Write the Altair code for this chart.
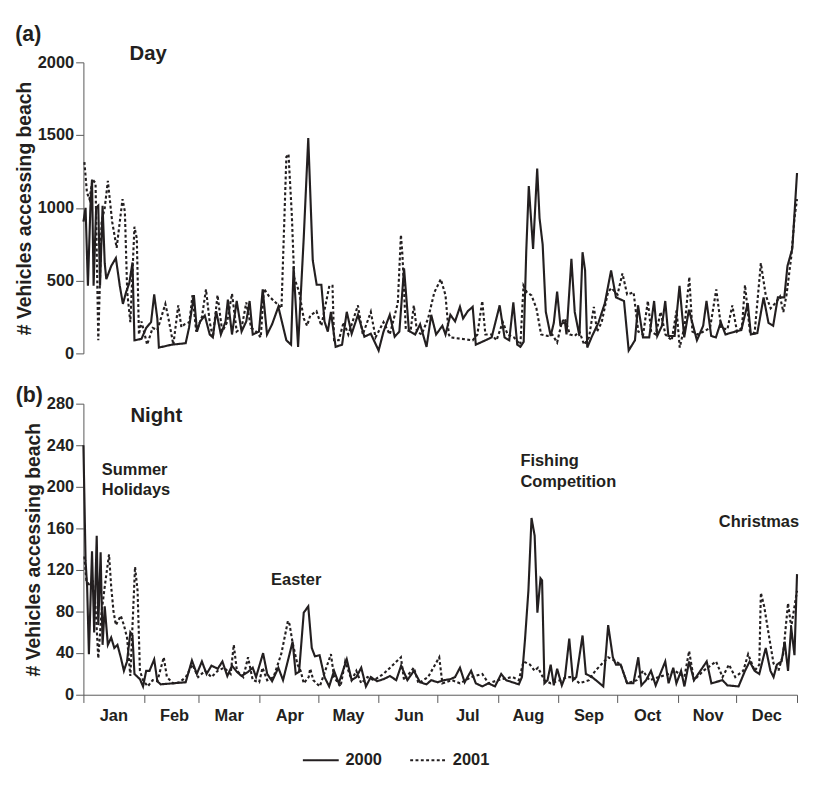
import altair as alt
import pandas as pd

INK = "#231f20"
FONT = "Liberation Sans"

MONTHS = ["Jan", "Feb", "Mar", "Apr", "May", "Jun", "Jul", "Aug", "Sep", "Oct", "Nov", "Dec", ""]
MONTH_STARTS = [0, 31, 59, 90, 120, 151, 181, 212, 243, 273, 304, 334, 365]
YEARS = ["2000", "2001"]

# ---------------- (a) Day ----------------
day_2000_x = [0, 1.1, 2.3, 3.6, 4.4, 5.2, 6.5, 7.6, 8.5, 9.8, 10.9, 11.7, 14.2, 16.6, 18.6, 20.2, 21.8, 23.5,
              25.1, 26.1, 29.7, 32.1, 34.6, 36.2, 37.8, 38.6, 45.2, 52.3, 54, 56.5, 58.1, 59.7, 62.1, 64.6, 66.2,
              67.9, 70.3, 72.7, 73.9, 76, 78.4, 80.9, 83.3, 85, 86.6, 89.8, 91.7, 93.9, 96.5, 99.7, 103.8, 106.2,
              107.5, 109.8, 112.7, 115, 117.3, 119.3, 121.7, 123.3, 125, 126.6, 129, 132.3, 134.7, 137.2, 140.4,
              143.7, 147, 151, 153.5, 156.7, 159.2, 161.6, 164, 166.5, 169.7, 172.2, 175.5, 177.9, 180.4, 183.6,
              185.2, 187.7, 190.1, 192.6, 194.2, 196.6, 199.1, 200.7, 204, 208.8, 212.9, 215.4, 217.8, 219.9,
              221.9, 223.5, 225.2, 226.5, 227.8, 230, 232.1, 233.3, 234.9, 236.5, 239, 240.6, 242.3, 243.9,
              246.3, 247.1, 249.6, 251.3, 253.7, 255.3, 256.6, 257.7, 260.2, 263.4, 266.7, 269.9, 272.4, 276.5,
              278.9, 282.1, 283.7, 286.2, 289.4, 291.9, 293.5, 295.9, 297.6, 299.2, 302.4, 304.9, 307.3, 309.7,
              313.8, 317, 318.7, 321.1, 323.5, 326, 328.4, 333.3, 336.5, 339.8, 341.4, 344.7, 347.9, 350.4,
              352.8, 355.2, 358.5, 360.1, 362.6, 365]
day_2000_v = [905, 1000, 465, 1015, 1195, 465, 1000, 1015, 465, 1015, 620, 510, 600, 655, 465, 340, 420, 485,
              625, 90, 100, 175, 215, 405, 240, 40, 60, 70, 175, 400, 150, 220, 260, 130, 110,
              290, 130, 220, 370, 130, 360, 150, 220, 360, 130, 150, 440, 130, 200, 320, 90, 60,
              597, 45, 797, 1480, 640, 472, 472, 220, 150, 285, 45, 60, 286, 135, 265,
              115, 135, 20, 150, 265, 115, 150, 585, 155, 130, 200, 45, 265, 130, 190,
              130, 265, 220, 320, 240, 290, 320, 60, 80, 110, 330, 110, 90, 350,
              60, 45, 80, 700, 1150, 718, 1270, 930, 747, 286, 120, 210, 425, 200,
              215, 130, 650, 285, 120, 695, 570, 40, 120, 210, 345, 570, 385, 360,
              20, 90, 330, 110, 110, 360, 120, 190, 360, 120, 120, 465, 110, 300,
              90, 190, 360, 120, 110, 215, 130, 150, 160, 345, 130, 140, 385, 210,
              190, 385, 385, 600, 720, 1240]

day_2001_x = [0.5, 1.8, 3.1, 4.7, 6.2, 7.6, 9.3, 10.9, 12.5, 14.7, 17, 20, 21.2, 22.4, 24, 26.1, 27.3, 28.4,
              29.7, 32.6, 35.4, 37.8, 41.9, 43.5, 46, 48.5, 50.1, 51.7, 54.2, 55.8, 57.7, 60.6, 62.7, 64.6,
              66.2, 68.6, 71, 73.5, 76, 78.4, 80.9, 83.3, 85.8, 88.3, 90.7, 92.3, 94.8, 101.3, 103.8, 104.9,
              106.6, 107.8, 110.3, 112.7, 114.4, 116, 119.2, 121.7, 125.8, 127.4, 128.2, 130.6, 133.1, 135.5,
              140.4, 142.9, 147, 149.4, 153.5, 156.7, 160.8, 162.4, 163.2, 164.9, 167.3, 169, 170.6, 173,
              176.3, 179.5, 182.8, 185.2, 186.9, 187.7, 199.1, 201.5, 204, 205.6, 208.8, 211.3, 214.5, 217,
              220.2, 223.5, 225.1, 226.8, 229.2, 231.7, 234.1, 237.4, 239.8, 242.3, 244.7, 246.3, 248.8,
              251.3, 253.7, 256.1, 258.6, 261.1, 262.7, 265.1, 268.3, 270, 273.2, 275.7, 278.1, 281.4, 283.8,
              286.3, 288.7, 290.4, 292.8, 295.2, 297.7, 300.9, 303.4, 305, 307.5, 309.9, 311.5, 314, 317.2,
              320.5, 323.7, 326.2, 329.4, 331.9, 334.3, 336.8, 338.4, 340.9, 343.3, 346.5, 349, 351.5, 353.9,
              356.3, 358, 359.6, 362.1, 363.7, 365]
day_2001_v = [1315, 1105, 1060, 1195, 1170, 90, 905, 1000, 1185, 905, 725, 1060, 975, 420, 215, 870, 790, 130,
              220, 60, 175, 160, 340, 240, 60, 330, 180, 200, 215, 400, 150, 250, 440, 215,
              110, 400, 150, 215, 410, 150, 175, 350, 175, 150, 110, 445, 395, 310, 1350, 1370,
              950, 520, 425, 240, 190, 260, 290, 190, 465, 465, 90, 90, 215, 130,
              330, 130, 285, 110, 215, 130, 345, 815, 670, 165, 150, 330, 150, 130,
              240, 420, 510, 400, 130, 110, 90, 130, 360, 130, 130, 90, 215, 130,
              110, 60, 465, 420, 398, 310, 130, 120, 130, 75, 215, 240, 130,
              120, 150, 60, 110, 320, 150, 215, 420, 450, 405, 550, 405, 420, 150,
              130, 360, 150, 130, 285, 130, 90, 295, 40, 190, 525, 150, 130, 150,
              175, 440, 175, 165, 330, 150, 175, 470, 150, 140, 620, 400, 310, 345,
              390, 285, 400, 670, 930, 1060]

# ---------------- (b) Night ----------------
night_2000_x = [0, 1.1, 1.9, 2.8, 4.4, 5.5, 6.8, 7.6, 8.8, 9.8, 10.9, 12.5, 14.2, 15.8, 17.4, 19.1, 20.7, 22.3,
                24, 25.1, 26.1, 28.9, 30.5, 32.1, 33.8, 36.2, 37.8, 39.5, 52.3, 55.5, 58, 60.6, 63, 65.5, 68.7,
                71.1, 73.6, 76, 78.5, 80.9, 84.2, 86.6, 88.3, 91.9, 94, 96.5, 99.7, 102.1, 107, 108.6, 110.3,
                112.7, 115, 116.8, 118.4, 120.8, 123.3, 125.7, 128.2, 130.6, 134.7, 137.2, 139.6, 142.1, 144.5,
                147, 150.2, 153.5, 156.8, 160, 162.5, 165.7, 169, 172.2, 175.5, 177.9, 181.2, 184.4, 187.7,
                190.1, 192.6, 195, 198.3, 200.7, 204, 207.2, 210.5, 213.7, 216.2, 219.4, 222.7, 224.3, 225.9,
                227.6, 229.2, 230.8, 232.2, 233.8, 234.6, 235.8, 237.4, 239, 240.6, 242.3, 244.7, 246.3, 248.5,
                250.4, 252.1, 255.3, 257, 260.2, 265.9, 268.4, 270.8, 272.4, 274.8, 278.1, 281.3, 283.8, 285.4,
                287.8, 290.3, 292.7, 297.6, 299.3, 301.7, 303.3, 305.7, 307.4, 309.8, 312.3, 318.8, 321.2, 326.9,
                329.4, 335.1, 338.4, 340.8, 343.3, 345.7, 349, 351.4, 353, 354.7, 357.1, 358.7, 359.6, 360.4,
                362, 363.7, 365]
night_2000_v = [240, 129, 104, 39, 138, 60, 153, 67, 137, 48, 85, 48, 55, 45, 48, 36, 23, 32,
                60, 57, 20, 15, 8, 23, 23, 34, 13, 10, 12, 33, 20, 32, 20, 28, 25,
                32, 18, 28, 22, 18, 22, 26, 17, 40, 20, 13, 26, 14, 51, 20, 22,
                79, 85, 45, 37, 38, 17, 8, 23, 11, 34, 14, 17, 26, 8,
                17, 13, 15, 18, 14, 28, 14, 23, 12, 10, 14, 12, 14, 15,
                17, 26, 12, 23, 11, 8, 11, 8, 20, 14, 12, 10, 17, 54,
                100, 170, 153, 79, 112, 110, 11, 14, 29, 9, 25, 9, 17, 54,
                14, 17, 57, 20, 17, 8, 67, 36, 29, 29, 11, 11, 36, 9,
                14, 23, 9, 32, 11, 26, 11, 23, 8, 32, 14, 32, 11, 14,
                9, 8, 23, 32, 23, 20, 45, 23, 17, 29, 32, 51, 36, 23,
                65, 38, 116]

night_2001_x = [0.5, 1.5, 3.6, 4.7, 6.2, 7.6, 9.3, 10.9, 13.1, 14.2, 15.4, 16.6, 19.1, 20.7, 22.3, 24, 26.4,
                27.7, 28.9, 30.5, 32.9, 35.4, 37.8, 41.1, 42.7, 45.9, 49.2, 52.4, 55.7, 58.7, 62.2, 65.5, 68.7,
                72, 75.3, 76.9, 78.5, 81.8, 84.2, 86.6, 89.9, 91.6, 94, 97.3, 101.3, 104.6, 105.4, 107, 109.5,
                111.1, 112.7, 115.2, 116, 117.6, 120.9, 126.6, 128.2, 131.5, 133.9, 137.2, 139.6, 142.1, 145.3,
                148.6, 153.5, 162.4, 164, 169, 171.4, 176.3, 182, 183.6, 188.5, 192.6, 198.3, 204, 207.2, 213.8,
                219.5, 222.7, 225.1, 228.4, 230.8, 232.5, 235.8, 239, 243.9, 247.2, 250.4, 253.7, 258.6, 261.8,
                268.4, 271.6, 274.8, 278.1, 283, 286.2, 289.5, 294.4, 299.3, 302.5, 307.4, 309.8, 312.3, 317.1,
                323.6, 326.9, 330.2, 333.4, 337.5, 340, 343.3, 345.7, 346.5, 348.2, 350.6, 353, 355.5, 357.9,
                360.4, 362, 365]
night_2001_v = [133, 110, 104, 110, 85, 35, 80, 104, 135, 104, 80, 67, 76, 67, 55, 18, 123,
                100, 23, 14, 8, 14, 13, 36, 17, 11, 12, 17, 29, 17, 23, 17, 23,
                26, 20, 48, 23, 17, 36, 14, 12, 26, 14, 17, 40, 71, 68, 50, 29,
                23, 11, 17, 25, 14, 8, 39, 17, 8, 32, 14, 23, 11, 17,
                14, 20, 36, 14, 26, 11, 17, 36, 11, 14, 11, 17, 20, 11, 15,
                17, 14, 32, 29, 23, 26, 14, 11, 14, 17, 17, 11, 14, 23,
                36, 33, 29, 11, 14, 23, 14, 17, 20, 23, 17, 42, 14, 23,
                32, 17, 29, 17, 23, 39, 23, 29, 98, 85, 57, 30, 23, 39,
                88, 65, 100]

# annotation texts (data coordinates: day, vehicles)
TOP_LETTER = [("(a)", -28.2, 2146)]
TOP_TITLE = [("Day", 33.1, 2013)]
BOT_LETTER = [("(b)", -27.7, 282)]
BOT_TITLE = [("Night", 37.3, 262)]
BOT_NOTES = [("Summer", 9.4, 211), ("Holidays", 9.4, 192), ("Easter", 96, 106),
             ("Fishing", 223.5, 220), ("Competition", 223.5, 200), ("Christmas", 325, 161)]


def series(xs, vs, year):
    return pd.DataFrame({"day": xs, "vehicles": vs, "year": year})


def notes(rows):
    return pd.DataFrame(rows, columns=["label", "day", "vehicles"])


day_df = pd.concat([series(day_2000_x, day_2000_v, "2000"), series(day_2001_x, day_2001_v, "2001")])
night_df = pd.concat([series(night_2000_x, night_2000_v, "2000"), series(night_2001_x, night_2001_v, "2001")])

W, H = 738, 301
xscale = alt.Scale(domain=[0, 365], nice=False, zero=False)
dash = alt.StrokeDash(
    "year:N",
    scale=alt.Scale(domain=YEARS, range=[[1, 0], [3, 2.5]]),
    legend=alt.Legend(title=None, orient="none", direction="horizontal", legendX=237, legendY=713,
                      symbolType="M-4,0H4", symbolSize=86, symbolStrokeWidth=2,
                      symbolStrokeColor=INK, columnPadding=24, labelFontSize=17,
                      labelFontWeight="bold", labelFont=FONT, labelColor=INK, labelOffset=17),
)

label_expr = "[" + ",".join("'%s'" % m for m in MONTHS) + "][indexof([" + \
    ",".join(str(v) for v in MONTH_STARTS) + "], datum.value)]"


def yaxis(vals):
    return alt.Axis(values=vals, format="d", title="# Vehicles accessing beach", grid=False, tickSize=8,
                    labelPadding=2, titlePadding=3)


def text_layer(rows, size, align, yscale):
    return alt.Chart(notes(rows)).mark_text(
        font=FONT, fontWeight="bold", fontSize=size, align=align, baseline="alphabetic", color=INK
    ).encode(
        x=alt.X("day:Q", scale=xscale),
        y=alt.Y("vehicles:Q", scale=yscale),
        text="label:N",
    )


yscale_top = alt.Scale(domain=[0, 2000], nice=False)
yscale_bot = alt.Scale(domain=[0, 280], nice=False)

top_lines = alt.Chart(day_df).mark_line(strokeWidth=2.2, color=INK).encode(
    x=alt.X("day:Q", scale=xscale, axis=None),
    y=alt.Y("vehicles:Q", scale=yscale_top, axis=yaxis([0, 500, 1000, 1500, 2000])),
    strokeDash=dash,
    order="day:Q",
)
top = alt.layer(
    top_lines,
    text_layer(TOP_LETTER, 22, "center", yscale_top),
    text_layer(TOP_TITLE, 21, "center", yscale_top),
).properties(width=W, height=H)

bot_lines = alt.Chart(night_df).mark_line(strokeWidth=2.2, color=INK).encode(
    x=alt.X("day:Q", scale=xscale,
            axis=alt.Axis(values=MONTH_STARTS, labelExpr=label_expr, title=None, grid=False,
                          tickSize=8, labelOffset=31, labelPadding=6, labelOverlap=False,
                          labelFlush=False, labelBound=False)),
    y=alt.Y("vehicles:Q", scale=yscale_bot, axis=yaxis([0, 40, 80, 120, 160, 200, 240, 280])),
    strokeDash=dash,
    order="day:Q",
)
bottom = alt.layer(
    bot_lines,
    text_layer(BOT_LETTER, 22, "center", yscale_bot),
    text_layer(BOT_TITLE, 21, "center", yscale_bot),
    text_layer(BOT_NOTES, 17, "left", yscale_bot),
).properties(width=W, height=H)

chart = alt.vconcat(top, bottom, spacing=23).properties(
    padding={"left": 7, "top": 3, "right": 0, "bottom": 0}
).configure_view(stroke=None).configure_axis(
    labelFont=FONT, labelFontSize=17, labelFontWeight="bold", labelColor=INK,
    titleFont=FONT, titleFontSize=20, titleFontWeight="bold", titleColor=INK,
    domainColor="#555555", tickColor="#555555", domainWidth=1, tickWidth=1,
)

chart.save("out.html", embed_options={"renderer": "svg", "actions": False})
